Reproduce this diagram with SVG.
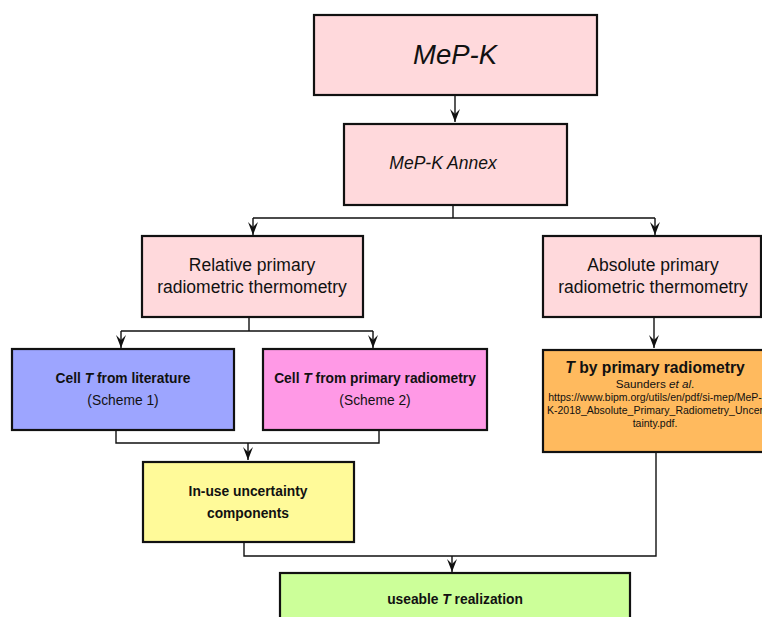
<svg xmlns="http://www.w3.org/2000/svg" width="762" height="617" viewBox="0 0 762 617">
<defs>
<style>
.box{stroke:#111;stroke-width:2.2}
.pink{fill:#FFD9DC}
.blue{fill:#9DA5FF}
.mag{fill:#FF99E6}
.org{fill:#FFBA5E}
.yel{fill:#FFFA99}
.grn{fill:#CCFF99}
.c{fill:none;stroke:#111;stroke-width:1.4}
.a{marker-end:url(#ah)}
text{font-family:"Liberation Sans",Arial,sans-serif;fill:#111;text-anchor:middle}
.b{font-weight:bold;font-size:13.8px}
.n{font-size:13.8px}
.m{font-size:17.5px}
</style>
<marker id="ah" viewBox="0 0 13 10" refX="13" refY="5" markerWidth="13" markerHeight="10" markerUnits="userSpaceOnUse" orient="auto">
<path d="M0,0 L13,5 L0,10 L5,5 z" fill="#111"/>
</marker>
</defs>
<g id="connectors">
<path class="c a" d="M455,95 V122"/>
<path class="c" d="M453,205 V218 M253,218 H655"/>
<path class="c a" d="M253,218 V235"/>
<path class="c a" d="M655,218 V235"/>
<path class="c" d="M249,317 V331 M121,331 H373"/>
<path class="c a" d="M121,331 V348"/>
<path class="c a" d="M373,331 V348"/>
<path class="c a" d="M654,317 V348"/>
<path class="c" d="M116,431 V443 H379 V431"/>
<path class="c a" d="M248,443 V460"/>
<path class="c" d="M244,542 V556 H656 V452"/>
<path class="c a" d="M452,556 V572"/>
</g>
<g id="mepk">
<rect class="box pink" x="314" y="15" width="283" height="80"/>
<text x="455" y="64" style="font-size:27.5px;font-style:italic">MeP-K</text>
</g>
<g id="annex">
<rect class="box pink" x="344" y="124" width="223" height="81"/>
<text x="443" y="169" style="font-size:17.5px;font-style:italic">MeP-K Annex</text>
</g>
<g id="relative">
<rect class="box pink" x="142" y="236" width="221" height="81"/>
<text class="m" x="252" y="271">Relative primary</text>
<text class="m" x="252" y="293">radiometric thermometry</text>
</g>
<g id="absolute">
<rect class="box pink" x="543" y="236" width="218" height="81"/>
<text class="m" x="653" y="271">Absolute primary</text>
<text class="m" x="653" y="293">radiometric thermometry</text>
</g>
<g id="literature">
<rect class="box blue" x="12" y="349" width="222" height="81"/>
<text class="b" x="123" y="383">Cell <tspan font-style="italic">T</tspan> from literature</text>
<text class="n" x="123" y="405">(Scheme 1)</text>
</g>
<g id="primary">
<rect class="box mag" x="263" y="349" width="224" height="81"/>
<text class="b" x="375" y="383">Cell <tspan font-style="italic">T</tspan> from primary radiometry</text>
<text class="n" x="375" y="405">(Scheme 2)</text>
</g>
<g id="tprimary">
<rect class="box org" x="543" y="350" width="230" height="102"/>
<text x="655" y="373" style="font-size:15.7px;font-weight:bold"><tspan font-style="italic">T</tspan> by primary radiometry</text>
<text x="655" y="388" style="font-size:11.7px">Saunders <tspan font-style="italic">et al</tspan>.</text>
<text x="655" y="401" style="font-size:10.5px">https://www.bipm.org/utils/en/pdf/si-mep/MeP-</text>
<text x="655" y="414" style="font-size:10.5px">K-2018_Absolute_Primary_Radiometry_Uncer</text>
<text x="655" y="427" style="font-size:10.5px">tainty.pdf.</text>
</g>
<g id="inuse">
<rect class="box yel" x="143" y="462" width="211" height="80"/>
<text class="b" x="248" y="496">In-use uncertainty</text>
<text class="b" x="248" y="518">components</text>
</g>
<g id="useable">
<rect class="box grn" x="280" y="573" width="350" height="60"/>
<text class="b" x="455" y="604">useable <tspan font-style="italic">T</tspan> realization</text>
</g>
</svg>
